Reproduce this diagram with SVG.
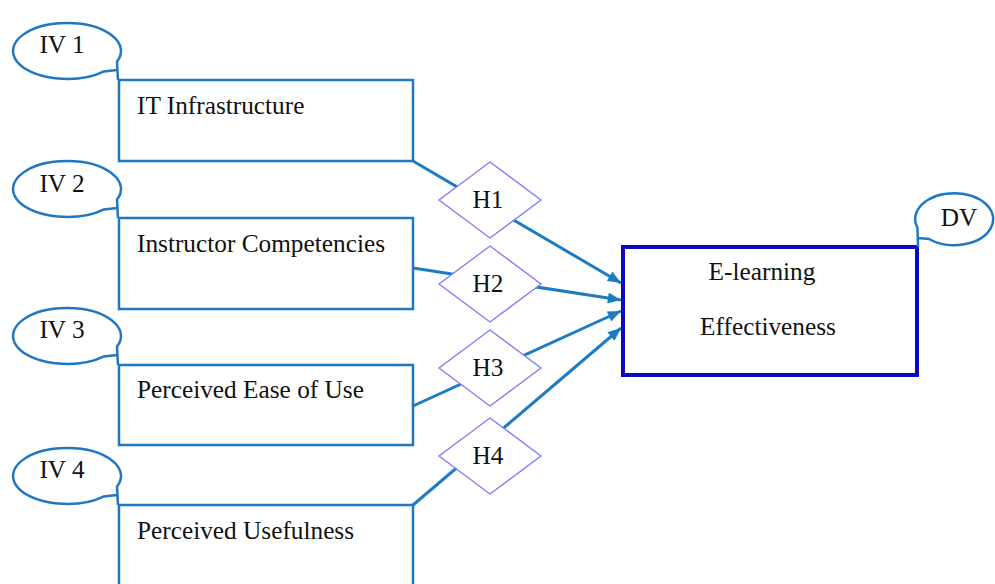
<svg xmlns="http://www.w3.org/2000/svg" width="995" height="584" viewBox="0 0 995 584">
  <style>
    .box { fill: #ffffff; stroke: #1f78c1; stroke-width: 2.5; }
    .bub { fill: #ffffff; stroke: #1f78c1; stroke-width: 2.5; stroke-linejoin: miter; }
    .dv { fill: #ffffff; stroke: #0a0abf; stroke-width: 4; }
    .dia { fill: #ffffff; stroke: #7b7bff; stroke-width: 1.3; }
    .conn { fill: none; stroke: #1b7cc2; stroke-width: 3; }
    .mid { text-anchor: middle; }
  </style>
  <defs>
    <marker id="arr" viewBox="0 0 12 10" refX="12" refY="5" markerWidth="14" markerHeight="11" markerUnits="userSpaceOnUse" orient="auto">
      <path d="M0,0 L12,5 L0,10 z" fill="#1b7cc2"/>
    </marker>
  </defs>
  <rect width="995" height="584" fill="#ffffff"/>

  <g id="connectors">
    <line class="conn" x1="413" y1="161" x2="621" y2="283" marker-end="url(#arr)"/>
    <line class="conn" x1="413" y1="268" x2="621" y2="300" marker-end="url(#arr)"/>
    <line class="conn" x1="413" y1="406" x2="621" y2="311" marker-end="url(#arr)"/>
    <line class="conn" x1="413" y1="505" x2="621" y2="328" marker-end="url(#arr)"/>
  </g>

  <g font-family="Liberation Serif, Times New Roman, DejaVu Serif, serif" font-size="25.3" fill="#111111">
  <g id="iv1">
    <rect class="box" x="119" y="80" width="294" height="81"/>
    <path class="bub" d="M118 80 L117 61.6 A54 28 0 1 0 104 71.4 L117 70"/>
    <text class="mid" x="62" y="53">IV 1</text>
    <text x="137" y="114">IT Infrastructure</text>
  </g>
  <g id="iv2">
    <rect class="box" x="119" y="218" width="294" height="91"/>
    <path class="bub" d="M118 218 L117 199.6 A54 28 0 1 0 104 209.4 L117 208"/>
    <text class="mid" x="62" y="192">IV 2</text>
    <text x="137" y="252">Instructor Competencies</text>
  </g>
  <g id="iv3">
    <rect class="box" x="119" y="365" width="294" height="80"/>
    <path class="bub" d="M118 365 L117 346.6 A54 28 0 1 0 104 356.4 L117 355"/>
    <text class="mid" x="62" y="338">IV 3</text>
    <text x="137" y="398">Perceived Ease of Use</text>
  </g>
  <g id="iv4">
    <rect class="box" x="119" y="505" width="294" height="90"/>
    <path class="bub" d="M118 505 L117 486.6 A54 28 0 1 0 104 496.4 L117 495"/>
    <text class="mid" x="62" y="478">IV 4</text>
    <text x="137" y="539">Perceived Usefulness</text>
  </g>

  <g id="dv">
    <rect class="dv" x="623" y="247" width="294" height="128"/>
    <path class="bub" d="M918 247 L917.5 228 A39 26 0 1 1 929 239 L918 238"/>
    <text class="mid" x="959" y="226">DV</text>
    <text class="mid" x="762" y="280">E-learning</text>
    <text class="mid" x="768" y="335">Effectiveness</text>
  </g>

  <g id="h1">
    <polygon class="dia" points="490,162 541,200 490,238 439,200"/>
    <text class="mid" x="488" y="208">H1</text>
  </g>
  <g id="h2">
    <polygon class="dia" points="490,246 541,284 490,322 439,284"/>
    <text class="mid" x="488" y="292">H2</text>
  </g>
  <g id="h3">
    <polygon class="dia" points="490,330 541,368 490,406 439,368"/>
    <text class="mid" x="488" y="376">H3</text>
  </g>
  <g id="h4">
    <polygon class="dia" points="490,418 541,456 490,494 439,456"/>
    <text class="mid" x="488" y="464">H4</text>
  </g>
  </g>
</svg>
